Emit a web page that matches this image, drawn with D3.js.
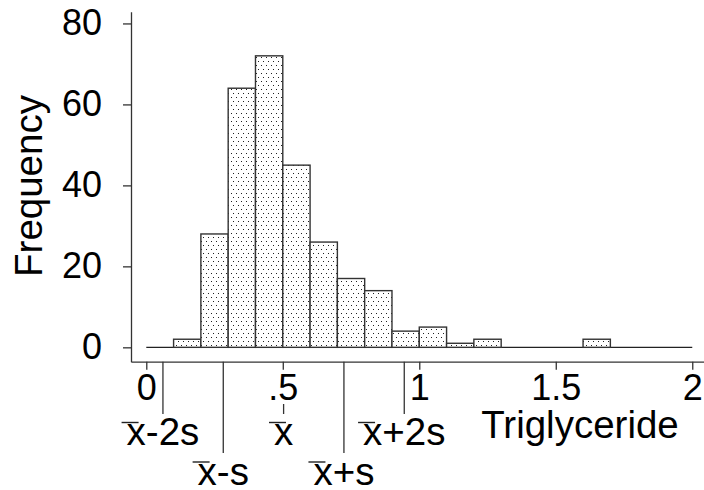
<!DOCTYPE html>
<html>
<head>
<meta charset="utf-8">
<script src="https://cdn.jsdelivr.net/npm/d3@7"></script>
<style>
  body { margin: 0; background: #fff; }
  svg text { font-family: "Liberation Sans", Arial, sans-serif; fill: #000; }
</style>
</head>
<body>
<div id="chart-area"></div>
<script>
// histogram bins (lower edge) and counts
var binLow = [0.1, 0.2, 0.3, 0.4, 0.5, 0.6, 0.7, 0.8, 0.9, 1.0, 1.1, 1.2, 1.6];
var counts = [2, 28, 64, 72, 45, 26, 17, 14, 4, 5, 1, 2, 2];
var binWidth = 0.1;

// sample mean and sd of triglyceride
var mean = 0.503;
var sd = 0.221;
var guideK = [-2, -1, 0, 1, 2];
var guideText = ['-2s', '-s', '', '+s', '+2s'];

var xTicks = [0, 0.5, 1, 1.5, 2];
var xTickLabels = ['0', '.5', '1', '1.5', '2'];
var yTicks = [0, 20, 40, 60, 80];

var W = 704, H = 490;
var tickFont = 36;
var titleFont = 38.5;

var svg = d3.select('#chart-area')
    .append('svg')
        .attr('width', W)
        .attr('height', H);

var defs = svg.append('defs');
var pat = defs.append('pattern')
    .attr('id', 'dots')
    .attr('width', 5)
    .attr('height', 8)
    .attr('patternUnits', 'userSpaceOnUse');
pat.append('rect').attr('width', 5).attr('height', 8).attr('fill', '#fff');
pat.append('rect').attr('x', 1).attr('y', 1).attr('width', 1).attr('height', 1).attr('fill', '#222');
pat.append('rect').attr('x', 3).attr('y', 5).attr('width', 1).attr('height', 1).attr('fill', '#222');

// scales
var x = d3.scaleLinear()
    .domain([-0.056, 2.043])
    .range([131, 704]);

var y = d3.scaleLinear()
    .domain([-3.55, 82.9])
    .range([361.7, 11.7]);

// baseline at zero across the x range
svg.append('line')
    .attr('x1', x(0))
    .attr('x2', x(2))
    .attr('y1', y(0))
    .attr('y2', y(0))
    .attr('stroke', '#222')
    .attr('stroke-width', 1.3);

// bars
svg.selectAll('rect.bar').data(binLow)
    .enter()
    .append('rect')
    .attr('class', 'bar')
    .attr('x', function(d) { return x(d) })
    .attr('y', function(d, i) { return y(counts[i]) })
    .attr('width', function(d) { return x(d + binWidth) - x(d) })
    .attr('height', function(d, i) { return y(0) - y(counts[i]) })
    .attr('fill', 'url(#dots)')
    .attr('stroke', '#333')
    .attr('stroke-width', 1.4);

// Y axis
var yAxisCall = d3.axisLeft(y)
    .tickValues(yTicks)
    .tickSize(8)
    .tickSizeOuter(0)
    .tickPadding(21);
svg.append('g')
    .attr('class', 'left axis')
    .attr('transform', 'translate(' + x.range()[0] + ',0)')
    .call(yAxisCall);

// X axis
var xAxisCall = d3.axisBottom(x)
    .tickValues(xTicks)
    .tickSize(8)
    .tickSizeOuter(0)
    .tickPadding(5)
    .tickFormat(function(d, i) { return xTickLabels[i] });
svg.append('g')
    .attr('class', 'bottom axis')
    .attr('transform', 'translate(0,' + y.range()[0] + ')')
    .call(xAxisCall);

svg.selectAll('.axis path, .axis line')
    .attr('stroke', '#333')
    .attr('stroke-width', 1.3);
svg.selectAll('.axis text')
    .attr('font-family', '"Liberation Sans", Arial, sans-serif')
    .attr('font-size', tickFont)
    .attr('fill', '#000');

// mean +/- sd guides below the axis
var guides = svg.selectAll('g.guide').data(guideK)
    .enter()
    .append('g')
    .attr('class', 'guide');

guides.append('line')
    .attr('x1', function(d) { return x(mean + d * sd) })
    .attr('x2', function(d) { return x(mean + d * sd) })
    .attr('y1', function(d) { return d === 0 ? 404 : y.range()[0] })
    .attr('y2', function(d) { return Math.abs(d) % 2 === 0 ? 414 : 453 })
    .attr('stroke', '#333')
    .attr('stroke-width', 1.3);

var guideLabels = guides.append('text')
    .attr('x', function(d) { return x(mean + d * sd) })
    .attr('y', function(d) { return Math.abs(d) % 2 === 0 ? 445 : 484.5 })
    .attr('text-anchor', 'middle')
    .attr('font-size', titleFont)
    .text(function(d, i) { return 'x' + guideText[i] });

// bar over the x
guideLabels.each(function(d) {
    var p = this.getStartPositionOfChar(0);
    var by = (Math.abs(d) % 2 === 0 ? 445 : 484.5) - 22.5;
    d3.select(this.parentNode).append('line')
        .attr('x1', p.x - 5)
        .attr('x2', p.x + 12)
        .attr('y1', by)
        .attr('y2', by)
        .attr('stroke', '#222')
        .attr('stroke-width', 1.4);
});

// X axis label
svg.append('text')
    .attr('class', 'x axis-label')
    .attr('x', 580)
    .attr('y', 437.7)
    .attr('font-size', titleFont)
    .attr('text-anchor', 'middle')
    .text('Triglyceride');

// Y axis label
svg.append('text')
    .attr('class', 'y axis-label')
    .attr('x', -186)
    .attr('y', 41.7)
    .attr('font-size', titleFont)
    .attr('text-anchor', 'middle')
    .attr('transform', 'rotate(-90)')
    .text('Frequency');
</script>
</body>
</html>
